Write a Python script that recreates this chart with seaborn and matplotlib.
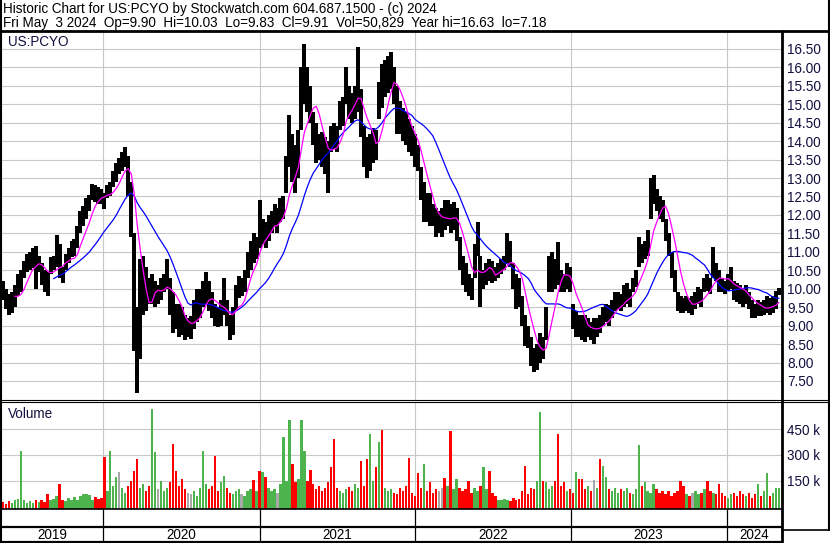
import numpy as np
import pandas as pd
import matplotlib
matplotlib.use("Agg")
import matplotlib.pyplot as plt
import seaborn as sns

# ---------------- data ----------------
header1 = "Historic Chart for US:PCYO by Stockwatch.com 604.687.1500 - (c) 2024"
header2 = "Fri May  3 2024  Op=9.90  Hi=10.03  Lo=9.83  Cl=9.91  Vol=50,829  Year hi=16.63  lo=7.18"
symbol = "US:PCYO"
last_week = "2024-05-03"
years = [2019, 2020, 2021, 2022, 2023, 2024]
price_ticks = [7.5, 8.0, 8.5, 9.0, 9.5, 10.0, 10.5, 11.0, 11.5, 12.0, 12.5,
               13.0, 13.5, 14.0, 14.5, 15.0, 15.5, 16.0, 16.5]
vol_ticks = [150, 300, 450]   # thousands

# weekly high / low, May 2019 .. May 2024
week_high = [
    10.35, 10.2, 10.0, 9.85, 9.9, 10.1, 10.4, 10.5, 10.75, 10.95,
    11.0, 11.1, 11.15, 10.9, 10.7, 10.5, 10.45, 10.85, 10.9, 11.45,
    11.2, 10.6, 10.95, 11.1, 11.3, 11.35, 11.7, 12.1, 12.25, 12.45,
    12.55, 12.85, 12.8, 12.75, 12.7, 12.6, 12.8, 12.9, 13.2, 13.4,
    13.55, 13.7, 13.84, 13.6, 12.9, 11.5, 9.5, 10.8, 10.9, 10.6,
    10.3, 10.4, 10.2, 10.1, 10.3, 10.4, 10.8, 10.3, 9.9, 9.6,
    9.6, 9.5, 9.3, 9.2, 9.25, 9.7, 10.0, 10.0, 10.2, 10.45,
    10.2, 9.9, 9.6, 9.5, 9.7, 10.3, 9.7, 9.3, 9.5, 10.1,
    10.35, 10.3, 10.5, 11.0, 11.3, 11.5, 11.4, 12.4, 11.9, 11.8,
    12.0, 12.1, 12.3, 12.2, 12.46, 12.5, 13.6, 14.7, 14.2, 13.9,
    14.3, 16.0, 16.63, 16.0, 15.5, 14.8, 14.5, 14.2, 14.25, 14.1,
    14.0, 14.4, 14.5, 14.4, 15.1, 15.2, 16.0, 15.5, 15.3, 15.5,
    16.55, 15.4, 14.4, 14.1, 14.2, 14.35, 14.3, 15.6, 16.1, 16.2,
    16.3, 16.42, 16.0, 15.5, 15.1, 14.9, 14.8, 14.6, 14.4, 14.2,
    13.9, 13.3, 12.9, 12.6, 12.6, 12.3, 12.2, 12.1, 12.2, 12.4,
    12.4, 12.3, 12.35, 12.2, 11.4, 10.9, 10.7, 10.4, 10.3, 11.2,
    11.8, 10.9, 10.5, 10.7, 10.8, 10.75, 10.6, 10.7, 10.8, 10.9,
    11.5, 11.3, 10.7, 10.4, 10.3, 9.8, 9.3, 9.0, 8.7, 8.4,
    8.5, 8.8, 8.7, 9.5, 10.9, 11.0, 10.8, 11.27, 10.5, 10.4,
    10.7, 10.6, 9.6, 9.4, 9.3, 9.3, 9.3, 9.2, 9.1, 9.2,
    9.2, 9.3, 9.5, 9.6, 9.55, 9.7, 9.9, 9.9, 9.85, 10.1,
    10.15, 10.0, 10.3, 10.5, 11.4, 11.2, 11.3, 11.6, 13.0, 13.08,
    12.7, 12.5, 12.4, 11.9, 11.5, 11.0, 10.5, 9.9, 9.8, 9.75,
    9.8, 9.75, 9.8, 9.9, 10.05, 10.0, 10.3, 10.4, 10.3, 11.13,
    10.7, 10.5, 10.3, 10.2, 10.4, 10.6, 10.2, 10.15, 10.1, 10.0,
    10.1, 9.9, 9.7, 9.6, 9.7, 9.65, 9.7, 9.8, 9.75, 9.8,
    9.95, 10.03,
]
week_low = [
    9.85, 9.7, 9.45, 9.3, 9.35, 9.5, 9.8, 9.9, 10.3, 10.45,
    10.5, 10.55, 10.0, 10.45, 10.1, 9.9, 9.8, 10.4, 10.5, 10.6,
    10.3, 10.15, 10.5, 10.7, 10.85, 10.9, 11.1, 11.5, 11.7, 11.9,
    12.1, 12.4, 12.35, 12.3, 12.3, 12.15, 12.45, 12.5, 12.75, 12.9,
    13.1, 13.2, 13.3, 12.5, 11.4, 8.3, 7.18, 8.1, 9.3, 9.4,
    9.6, 9.6, 9.5, 9.6, 9.7, 9.9, 10.0, 9.3, 8.8, 8.9,
    8.7, 8.75, 8.6, 8.7, 8.65, 8.9, 9.1, 9.2, 9.5, 9.6,
    9.4, 9.2, 9.0, 8.95, 9.0, 9.3, 9.0, 8.6, 8.75, 9.4,
    9.75, 9.8, 9.9, 10.3, 10.5, 10.7, 10.8, 11.1, 11.2, 11.1,
    11.3, 11.5, 11.7, 11.5, 11.8, 11.9, 12.6, 13.3, 12.9, 12.6,
    13.0, 14.3, 15.0, 14.8, 14.5, 13.9, 13.4, 13.5, 13.3, 13.1,
    12.6, 13.7, 13.8, 13.7, 14.3, 14.4, 15.0, 14.6, 14.5, 14.6,
    14.8, 14.1, 13.3, 13.0, 13.2, 13.4, 13.5, 14.6, 14.9, 15.2,
    15.3, 15.4, 15.0, 14.2, 14.2, 14.0, 13.9, 13.7, 13.6, 13.3,
    13.2, 12.4, 11.8, 11.8, 11.7, 11.7, 11.4, 11.5, 11.4, 11.6,
    11.7, 11.5, 11.6, 11.3, 10.5, 10.1, 9.9, 9.8, 9.7, 10.3,
    10.9, 9.5, 10.0, 10.1, 10.2, 10.15, 10.2, 10.3, 10.4, 10.5,
    10.7, 10.6, 10.0, 9.45, 9.5, 9.0, 8.45, 8.4, 7.9, 7.74,
    7.8, 8.0, 8.1, 8.6, 9.9, 9.9, 10.0, 10.1, 9.9, 9.9,
    10.0, 9.9, 8.9, 8.7, 8.7, 8.6, 8.55, 8.7, 8.6, 8.5,
    8.7, 8.8, 9.0, 9.1, 9.0, 9.2, 9.4, 9.45, 9.4, 9.5,
    9.6, 9.5, 9.9, 10.05, 10.6, 10.7, 10.8, 10.9, 11.9, 12.3,
    12.1, 11.9, 11.8, 11.3, 10.9, 10.3, 9.9, 9.4, 9.35, 9.35,
    9.4, 9.35, 9.3, 9.45, 9.6, 9.5, 9.9, 9.95, 9.85, 10.3,
    10.2, 9.9, 9.9, 9.85, 9.95, 10.0, 9.7, 9.65, 9.6, 9.5,
    9.6, 9.45, 9.2, 9.2, 9.25, 9.25, 9.3, 9.35, 9.3, 9.35,
    9.45, 9.83,
]
# weekly volume bars, thousands of shares
week_vol = [
    18, 25, 15, 30, 20, 35, 45, 320, 40, 22,
    30, 18, 35, 25, 40, 28, 70, 35, 45, 62,
    128, 40, 30, 50, 35, 55, 40, 60, 72, 75,
    66, 40, 55, 45, 50, 286, 90, 325, 120, 170,
    199, 110, 80, 120, 150, 209, 277, 110, 130, 90,
    120, 569, 319, 100, 150, 90, 110, 140, 362, 209,
    120, 160, 100, 80, 70, 90, 60, 110, 325, 130,
    100, 120, 296, 90, 140, 180, 110, 80, 70, 90,
    100, 70, 60, 90, 100, 157, 90, 209, 199, 170,
    110, 90, 100, 77, 130, 402, 150, 505, 248, 140,
    160, 505, 325, 150, 213, 130, 100, 120, 90, 110,
    140, 228, 393, 110, 90, 80, 100, 112, 90, 130,
    110, 263, 120, 277, 422, 150, 232, 377, 445, 110,
    90, 100, 80, 70, 110, 90, 120, 282, 80, 60,
    193, 110, 248, 90, 140, 80, 100, 90, 110, 166,
    120, 439, 100, 160, 110, 90, 100, 150, 80, 110,
    90, 120, 232, 100, 205, 80, 60, 40, 35, 45,
    40, 30, 50, 35, 45, 90, 238, 70, 110, 100,
    150, 551, 150, 140, 100, 120, 150, 420, 120, 140,
    90, 100, 80, 203, 160, 160, 100, 120, 90, 155,
    110, 277, 238, 170, 100, 90, 110, 80, 100, 90,
    110, 80, 70, 100, 360, 120, 141, 90, 80, 130,
    100, 80, 90, 70, 90, 60, 80, 90, 150, 120,
    70, 60, 80, 90, 70, 80, 100, 147, 90, 80,
    70, 130, 80, 60, 50, 70, 80, 60, 90, 70,
    60, 80, 50, 70, 130, 60, 90, 193, 60, 80,
    108, 110,
]
# colour of notable volume bars (g = up, r = down, n = unchanged)
vol_color_seen = {7: "g", 35: "r", 37: "g", 40: "n", 45: "r", 46: "r", 51: "g", 52: "g",
                  58: "r", 59: "r", 68: "g", 72: "r", 85: "r", 87: "r", 88: "g", 93: "n",
                  95: "g", 97: "g", 98: "r", 101: "g", 102: "g", 104: "r", 111: "r",
                  112: "r", 121: "r", 123: "r", 124: "g", 126: "r", 127: "g", 128: "r",
                  137: "r", 140: "r", 142: "g", 149: "r", 151: "r", 153: "g", 157: "r",
                  162: "g", 164: "r", 176: "r", 181: "g", 187: "r", 193: "g", 201: "r",
                  202: "g", 214: "g", 228: "r", 237: "r", 254: "g", 257: "g", 261: "g"}
fast_window = 6     # weeks (magenta average)
slow_window = 19    # weeks (blue average)

# ---------------- style / layout ----------------
sns.set_style("white")
plt.rcParams["font.family"] = ["Liberation Sans", "DejaVu Sans"]
W, H = 830, 543
fig = plt.figure(figsize=(W / 100, H / 100), dpi=100)
fig.patch.set_facecolor("white")


def rect(l, t, r, b):
    return [l / W, 1 - b / H, (r - l) / W, (b - t) / H]


dates = pd.date_range(end=last_week, periods=len(week_high), freq="7D")
df = pd.DataFrame({"date": dates, "high": week_high, "low": week_low, "volume": week_vol})
df["mid"] = (df["high"] + df["low"]) / 2
df["ma_fast"] = df["mid"].rolling(fast_window).mean()
df["ma_slow"] = df["mid"].rolling(slow_window).mean()

x_left = pd.Timestamp("2019-05-08")
x_right = pd.Timestamp("2024-05-10")
year_starts = [pd.Timestamp(f"{y}-01-01") for y in years[1:]]

GRID = "#c8c8c8"
LABEL = "#101040"
FS = 9.75

# ---- price panel ----
ax_p = fig.add_axes(rect(2, 32, 782, 400))
ax_p.set_axisbelow(True)
ax_p.vlines(df["date"], df["low"], df["high"], color="black", linewidth=1.7,
            antialiased=False, zorder=2)
sns.lineplot(data=df, x="date", y="ma_slow", ax=ax_p, color="#0000ff",
             linewidth=0.9, estimator=None, zorder=3)
sns.lineplot(data=df, x="date", y="ma_fast", ax=ax_p, color="#ff00ff",
             linewidth=0.9, estimator=None, zorder=4)
ax_p.set_xlim(x_left, x_right)
ax_p.set_ylim(6.985, 16.958)
ax_p.set_yticks(price_ticks)
ax_p.set_yticklabels([f"{v:.2f}" for v in price_ticks])
ax_p.yaxis.tick_right()
ax_p.tick_params(axis="y", length=0, pad=3.6, labelsize=FS, labelcolor=LABEL)
ax_p.set_xticks(year_starts)
ax_p.tick_params(axis="x", length=0, labelbottom=False)
ax_p.grid(True, color=GRID, linewidth=0.8)
ax_p.set_xlabel("")
ax_p.set_ylabel("")
for s in ax_p.spines.values():
    s.set_visible(False)

# ---- volume panel ----
base = {"g": "#4db34d", "r": "#ff0000", "n": "#a8a8a8"}
chg = df["mid"].diff().fillna(0).to_numpy()
codes = ["g" if c > 0 else ("r" if c < 0 else "n") for c in chg]
for k, v in vol_color_seen.items():
    codes[k] = v
colors = [base[c] for c in codes]

vol_floor = -14.5
ax_v = fig.add_axes(rect(2, 402, 782, 509))
ax_v.set_axisbelow(True)
ax_v.bar(df["date"], df["volume"] - vol_floor, bottom=vol_floor, width=5.5,
         color=colors, linewidth=0, zorder=2)
ax_v.set_xlim(x_left, x_right)
ax_v.set_ylim(vol_floor, 607.6)
ax_v.set_yticks(vol_ticks)
ax_v.set_yticklabels([f"{v} k" for v in vol_ticks])
ax_v.yaxis.tick_right()
ax_v.tick_params(axis="y", length=0, pad=3.6, labelsize=FS, labelcolor=LABEL)
ax_v.set_xticks(year_starts)
ax_v.tick_params(axis="x", length=0, labelbottom=False)
ax_v.grid(True, color=GRID, linewidth=0.8)
for s in ax_v.spines.values():
    s.set_visible(False)

# ---- year band ----
ax_y = fig.add_axes(rect(2, 509, 782, 541))
ax_y.set_xlim(x_left, x_right)
ax_y.set_ylim(0, 1)
ax_y.vlines(year_starts, 0, 1, color="black", linewidth=0.9)
ax_y.axhline((541 - 527) / 32, color="black", linewidth=1.6)
ax_y.set_xticks([])
ax_y.set_yticks([])
for s in ax_y.spines.values():
    s.set_visible(False)
for y in years:
    a = max(pd.Timestamp(f"{y}-01-01"), x_left)
    b = min(pd.Timestamp(f"{y + 1}-01-01"), x_right)
    ax_y.text(a + (b - a) / 2, (541 - 535) / 32, str(y), ha="center", va="center",
              fontsize=FS, color="black")

# ---- texts ----
fig.text(3 / W, 1 - 13.3 / H, header1, fontsize=FS, va="baseline", ha="left", color="black")
fig.text(3 / W, 1 - 27.3 / H, header2, fontsize=FS, va="baseline", ha="left", color="black")
fig.text(8 / W, 1 - 46 / H, symbol, fontsize=FS, va="baseline", ha="left", color=LABEL)
fig.text(8 / W, 1 - 418 / H, "Volume", fontsize=FS, va="baseline", ha="left", color=LABEL)

# ---- frame lines ----
ov = fig.add_axes([0, 0, 1, 1], zorder=10)
ov.set_xlim(0, W)
ov.set_ylim(H, 0)
ov.axis("off")
ov.patch.set_alpha(0)
K = "black"
ov.plot([1, 1], [0, H], color=K, lw=1.5)
ov.plot([0, W], [30.8, 30.8], color=K, lw=2.0)
ov.plot([828.8, 828.8], [0, 530], color=K, lw=1.5)
ov.plot([782, 782], [31, 542], color=K, lw=2.0)
ov.plot([0, W], [400.3, 400.3], color=K, lw=0.8)
ov.plot([0, W], [402.3, 402.3], color=K, lw=0.8)
ov.plot([0, 782], [509.3, 509.3], color=K, lw=1.2)
ov.plot([782, W], [530, 530], color=K, lw=1.2)
ov.plot([0, 782], [541.6, 541.6], color=K, lw=1.6)

fig.savefig("out.png", dpi=100, facecolor="white")
